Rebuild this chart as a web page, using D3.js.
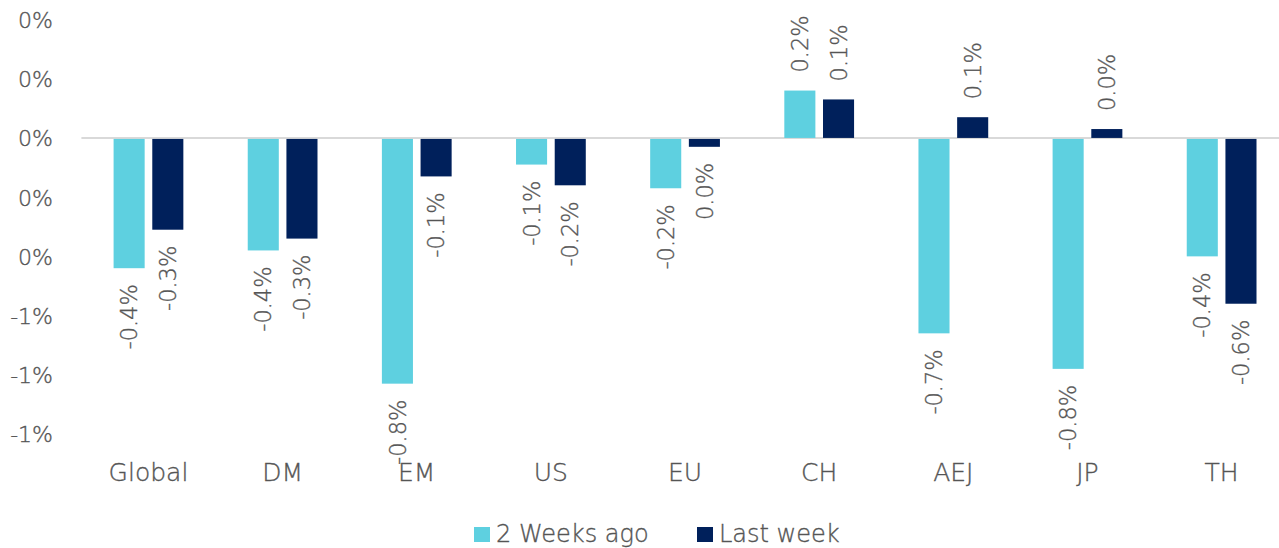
<!DOCTYPE html>
<html>
<head>
<meta charset="utf-8">
<script src="https://cdn.jsdelivr.net/npm/d3@7"></script>
<style>
  body { margin: 0; background: #fff; }
  svg { display: block; font-family: "DejaVu Sans", "Liberation Sans", Arial, sans-serif; font-weight: 200; }
  text { fill: #555; stroke: #555; stroke-width: 0.35px; }
</style>
</head>
<body>
<div id="chart"></div>
<script>
// chart data (values in %)
var categories = ["Global", "DM", "EM", "US", "EU", "CH", "AEJ", "JP", "TH"];
var seriesNames = ["2 Weeks ago", "Last week"];
var twoWeeksAgo = [-0.44, -0.38, -0.83, -0.09, -0.17, 0.16, -0.66, -0.78, -0.40];
var lastWeek = [-0.31, -0.34, -0.13, -0.16, -0.03, 0.13, 0.07, 0.03, -0.56];
var yTicks = [0.4, 0.2, 0, -0.2, -0.4, -0.6, -0.8, -1.0];
var colors = ["#5ED0E0", "#00205B"];

var svgWidth = 1279;
var svgHeight = 548;

var svg = d3.select("#chart")
    .append("svg")
    .attr("width", svgWidth)
    .attr("height", svgHeight);

var data = categories.map(function(c, i) {
    return { cat: c, values: [twoWeeksAgo[i], lastWeek[i]] };
});

// scales
var x0 = d3.scaleBand()
    .domain(categories)
    .range([81.4, 1288.7])
    .paddingInner(0.48)
    .paddingOuter(0.24);

var x1 = d3.scaleBand()
    .domain([0, 1])
    .range([0, x0.bandwidth()])
    .paddingInner(0.197);

var y = d3.scaleLinear()
    .domain([-1.0, 0.4])
    .range([434, 19.5]);

// excel-like formats: hyphen minus, no negative zero
var locale = d3.formatLocale({ decimal: ".", thousands: ",", grouping: [3], currency: ["", ""], minus: "-" });
function pctFmt(digits) {
    var f = locale.format("." + digits + "f");
    var k = Math.pow(10, digits);
    return function(v) {
        var r = Math.round(v * k) / k;
        if (r === 0) r = 0;
        return f(r) + "%";
    };
}
var tickFmt = pctFmt(0);
var labelFmt = pctFmt(1);

// y axis (labels only)
var leftAxis = d3.axisLeft(y)
    .tickValues(yTicks)
    .tickSize(0)
    .tickPadding(0)
    .tickFormat(tickFmt);

var yAxisG = svg.append("g")
    .attr("transform", "translate(53,0)")
    .call(leftAxis)
    .attr("font-family", null)
    .attr("font-size", null);
yAxisG.select(".domain").remove();
yAxisG.selectAll("text")
    .attr("font-size", "22px")
    .attr("dy", "0.36em")
    .attr("fill", null);

// zero line
svg.append("line")
    .attr("x1", 81.4)
    .attr("x2", svgWidth)
    .attr("y1", y(0))
    .attr("y2", y(0))
    .attr("stroke", "#d9d9d9")
    .attr("stroke-width", 2);

// bars
var groups = svg.selectAll(".grp")
    .data(data)
    .enter()
    .append("g")
    .attr("class", "grp")
    .attr("transform", d => `translate(${x0(d.cat)},0)`);

groups.selectAll("rect")
    .data(d => d.values.map((v, i) => ({ v: v, i: i })))
    .enter()
    .append("rect")
    .attr("x", d => x1(d.i))
    .attr("width", x1.bandwidth())
    .attr("y", d => y(Math.max(0, d.v)) + (d.v < 0 ? 1 : 0))
    .attr("height", d => Math.abs(y(d.v) - y(0)) - (d.v < 0 ? 1 : 0))
    .attr("fill", d => colors[d.i]);

// rotated value labels
groups.selectAll("text.val")
    .data(d => d.values.map((v, i) => ({ v: v, i: i })))
    .enter()
    .append("text")
    .attr("class", "val")
    .attr("transform", function(d) {
        var cx = x1(d.i) + x1.bandwidth() / 2;
        var cy = d.v >= 0 ? y(d.v) - 18 : y(d.v) + 16;
        return `translate(${cx},${cy}) rotate(-90)`;
    })
    .attr("text-anchor", d => d.v >= 0 ? "start" : "end")
    .attr("dy", "0.36em")
    .attr("font-size", "22.5px")
    .text(d => labelFmt(d.v));

// category labels
svg.selectAll("text.cat")
    .data(categories)
    .enter()
    .append("text")
    .attr("class", "cat")
    .attr("x", d => x0(d) + x0.bandwidth() / 2)
    .attr("y", 481)
    .attr("text-anchor", "middle")
    .attr("font-size", "25px")
    .text(d => d);

// legend
var legendX = [474, 697];
var legend = svg.selectAll(".legend")
    .data(seriesNames)
    .enter()
    .append("g")
    .attr("class", "legend")
    .attr("transform", (d, i) => `translate(${legendX[i]},527)`);

legend.append("rect")
    .attr("width", 16)
    .attr("height", 15)
    .attr("fill", (d, i) => colors[i]);

legend.append("text")
    .attr("x", 22)
    .attr("y", 6)
    .attr("dy", "0.36em")
    .attr("font-size", "24px")
    .text(d => d);
</script>
</body>
</html>
